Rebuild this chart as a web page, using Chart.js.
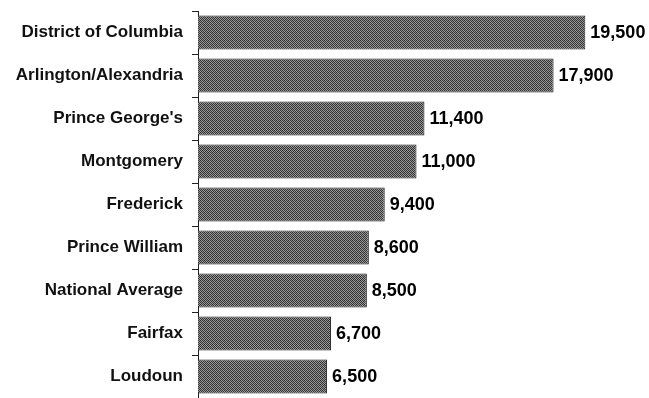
<!DOCTYPE html>
<html>
<head>
<meta charset="utf-8">
<script src="https://cdn.jsdelivr.net/npm/chart.js@4"></script>
<style>
  html, body { margin: 0; padding: 0; background: #fff; }
  #wrap { width: 649px; height: 398px; }
</style>
</head>
<body>
<div id="wrap"><canvas id="chart"></canvas></div>
<script>
'use strict';

const categories = ['District of Columbia', 'Arlington/Alexandria', "Prince George's", 'Montgomery', 'Frederick', 'Prince William', 'National Average', 'Fairfax', 'Loudoun'];
const values = [19500, 17900, 11400, 11000, 9400, 8600, 8500, 6700, 6500];

// dithered gray fill, like the scanned bars
const makePattern = () => {
	const c = document.createElement('canvas');
	c.width = 4;
	c.height = 4;
	const g = c.getContext('2d');
	const shades = [
		'#2a2a2a', '#9a9a9a', '#3a3a3a', '#8a8a8a',
		'#8f8f8f', '#333333', '#a5a5a5', '#2f2f2f',
		'#353535', '#959595', '#2c2c2c', '#9f9f9f',
		'#a0a0a0', '#303030', '#909090', '#383838'
	];
	shades.forEach((s, i) => {
		g.fillStyle = s;
		g.fillRect(i % 4, Math.floor(i / 4), 1, 1);
	});
	return g.createPattern(c, 'repeat');
};

const valueLabels = {
	id: 'valueLabels',
	afterDatasetsDraw(chart) {
		const ctx = chart.ctx;
		const meta = chart.getDatasetMeta(0);
		ctx.save();
		ctx.font = 'bold 18px "Liberation Sans", Arial, sans-serif';
		ctx.fillStyle = '#000';
		ctx.textBaseline = 'middle';
		ctx.textAlign = 'left';
		meta.data.forEach((bar, i) => {
			ctx.fillText(values[i].toLocaleString('en-US'), bar.x + 5, bar.y + 1);
		});
		ctx.restore();
	}
};

const ctx = document.querySelector('#chart').getContext('2d');

new Chart(ctx, {
	type: 'bar',
	data: {
		labels: categories,
		datasets: [{
			data: values,
			backgroundColor: makePattern(),
			borderColor: '#1a1a1a',
			borderWidth: 1,
			borderSkipped: 'left',
			categoryPercentage: 1,
			barPercentage: 0.79
		}]
	},
	options: {
		indexAxis: 'y',
		responsive: true,
		maintainAspectRatio: false,
		animation: false,
		layout: {
			padding: { top: 11, right: 14, bottom: 0, left: 0 }
		},
		plugins: {
			legend: { display: false },
			tooltip: { enabled: false }
		},
		scales: {
			x: {
				display: false,
				min: 0,
				max: 22000
			},
			y: {
				afterFit: (scale) => {
					scale.width = 198;
					scale.paddingTop = 0;
					scale.paddingBottom = 0;
				},
				grid: {
					offset: true,
					drawOnChartArea: false,
					drawTicks: true,
					tickLength: 6,
					color: '#222'
				},
				border: { display: true, color: '#222', width: 1 },
				ticks: {
					color: '#111',
					padding: 9,
					font: { family: '"Liberation Sans", Arial, sans-serif', size: 17, weight: 'bold' }
				}
			}
		}
	},
	plugins: [valueLabels]
});
</script>
</body>
</html>
